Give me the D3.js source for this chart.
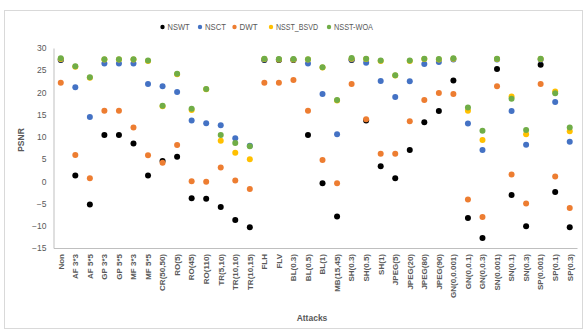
<!DOCTYPE html>
<html><head><meta charset="utf-8">
<script src="https://cdn.jsdelivr.net/npm/d3@7"></script>
<style>body{margin:0;background:#fff}svg{display:block}text{font-family:"Liberation Sans Narrow","Liberation Sans",Arial,sans-serif}</style>
</head><body><svg id="c" width="584" height="329"></svg>
<script>
const categories = ["Non","AF 3*3","AF 5*5","GP 3*3","GP 5*5","MF 3*3","MF 5*5","CR(50,50)","RO(5)","RO(45)","RO(110)","TR(5,10)","TR(10,10)","TR(10,15)","FLH","FLV","BL(0.3)","BL(0.5)","BL(1)","MB(15,45)","SH(0.3)","SH(0.5)","SH(1)","JPEG(5)","JPEG(20)","JPEG(80)","JPEG(90)","GN(0,0.001)","GN(0,0.1)","GN(0,0.3)","SN(0.001)","SN(0.1)","SN(0.3)","SP(0.001)","SP(0.1)","SP(0.3)"];
const NSWT = [27.3,1.3,-5.2,10.4,10.4,8.5,1.3,4.6,5.55,-3.8,-3.9,-5.8,-8.7,-10.35,27.3,27.3,27.3,10.4,-0.45,-7.9,27.3,13.7,3.4,0.7,7.05,13.3,15.8,22.7,-8.25,-12.75,25.3,-3.1,-10.1,26.25,-2.4,-10.35];
const NSCT = [27.4,21.15,14.5,26.5,26.5,26.5,21.9,21.4,20.1,13.7,13.05,12.6,9.7,8.0,27.4,27.4,27.4,26.5,19.65,10.6,27.4,26.7,22.6,19.0,22.5,26.4,26.85,27.4,13.0,7.05,27.4,15.8,8.25,27.4,17.85,8.9];
const DWT = [22.2,5.9,0.7,15.9,15.9,12.1,5.85,4.2,8.2,0.0,-0.1,3.1,0.2,-1.7,22.2,22.2,22.8,15.9,4.8,-0.45,21.9,13.95,6.2,6.2,13.5,18.3,19.9,19.65,-4.1,-8.0,21.4,1.55,-5.0,21.9,1.1,-6.0];
const NSST_BSVD = [27.5,25.8,23.3,27.4,27.4,27.4,27.1,16.9,24.1,16.05,20.7,9.15,6.45,4.95,27.5,27.4,27.4,27.4,25.6,18.2,27.6,27.5,27.1,23.8,27.1,27.5,27.4,27.6,15.9,9.3,27.5,19.1,10.6,27.5,20.2,11.25];
const NSST_WOA = [27.7,25.9,23.4,27.45,27.45,27.45,27.2,17.0,24.2,16.35,20.8,10.4,8.6,7.9,27.6,27.5,27.5,27.45,25.65,18.3,27.75,27.6,27.2,23.85,27.2,27.6,27.5,27.7,16.6,11.4,27.6,18.6,11.55,27.6,19.8,12.1];
const yTicks = [30,25,20,15,10,5,0,-5,-10,-15];
const seriesNames = ["NSWT","NSCT","DWT","NSST_BSVD","NSST-WOA"];
const seriesData = [NSWT,NSCT,DWT,NSST_BSVD,NSST_WOA];
const colors = ["#000000","#4472C4","#ED7D31","#FFC000","#70AD47"];

const svg = d3.select("#c");
svg.append("rect").attr("x",4.5).attr("y",10.5).attr("width",578).attr("height",318).attr("fill","#fff").attr("stroke","#d9d9d9");

const x = d3.scaleBand().domain(categories).range([53.5,577]);
const y = d3.scaleLinear().domain([-15,30]).range([248,48]);

// y axis
const ya = svg.append("g").attr("transform","translate(53.5,0)")
  .call(d3.axisLeft(y).tickValues(yTicks).tickSize(0).tickPadding(7));
ya.select(".domain").attr("stroke","#bfbfbf");
ya.selectAll("text").attr("fill","#595959").style("font-size","8.5px");

// x axis
const xa = svg.append("g").attr("transform","translate(0,248)")
  .call(d3.axisBottom(x).tickSize(0).tickSizeOuter(0));
xa.select(".domain").attr("stroke","#bfbfbf");
xa.selectAll("text").attr("fill","#595959").style("font-size","8px").style("font-weight","bold")
  .attr("transform","rotate(-90)").attr("text-anchor","end").attr("x",-6).attr("y",0).attr("dy","0.35em");

// points
seriesData.forEach((arr,si)=>{
  svg.append("g").selectAll("circle").data(arr).join("circle")
    .attr("cx",(d,i)=>x(categories[i])+x.bandwidth()/2)
    .attr("cy",d=>y(d))
    .attr("r",3)
    .attr("fill",colors[si]);
});

// titles
svg.append("text").attr("transform","translate(24,140) rotate(-90)").attr("text-anchor","middle")
  .attr("fill","#595959").style("font-size","8.5px").style("font-weight","bold").text("PSNR");
svg.append("text").attr("x",312).attr("y",321).attr("text-anchor","middle")
  .attr("fill","#595959").style("font-size","8.5px").style("font-weight","bold").text("Attacks");

// legend
const legX = [162.5,200,234.5,271,329];
const legW = [22,21,18,42,39];
const lg = svg.append("g");
seriesNames.forEach((n,i)=>{
  lg.append("circle").attr("cx",legX[i]).attr("cy",27).attr("r",2.2).attr("fill",colors[i]);
  lg.append("text").attr("x",legX[i]+5).attr("y",27).attr("dy","0.35em").attr("fill","#595959")
    .style("font-size","9px").attr("textLength", legW[i]).attr("lengthAdjust","spacingAndGlyphs").text(n);
});
</script></body></html>
